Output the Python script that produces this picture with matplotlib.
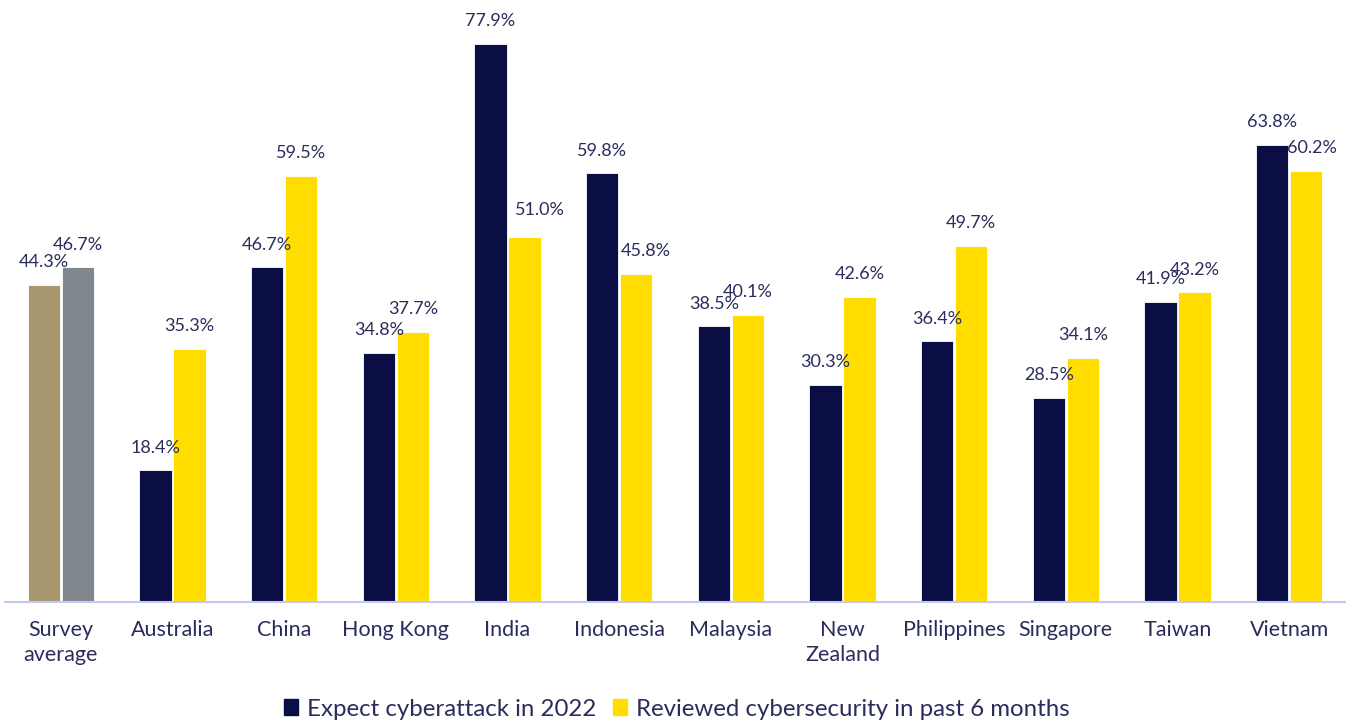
import matplotlib
matplotlib.use("Agg")
import matplotlib.pyplot as plt
from matplotlib.patches import Patch
import numpy as np

plt.rcParams["font.family"] = ["Lato", "DejaVu Sans"]

# Survey data
categories = ["Survey\naverage", "Australia", "China", "Hong Kong", "India", "Indonesia",
              "Malaysia", "New\nZealand", "Philippines", "Singapore", "Taiwan", "Vietnam"]
expect_attack = [44.3, 18.4, 46.7, 34.8, 77.9, 59.8, 38.5, 30.3, 36.4, 28.5, 41.9, 63.8]
reviewed_security = [46.7, 35.3, 59.5, 37.7, 51.0, 45.8, 40.1, 42.6, 49.7, 34.1, 43.2, 60.2]

navy = "#0b0e45"
yellow = "#ffdd00"
text_color = "#2a2d5c"

# first group (survey average) uses its own colours
colors_a = ["#a89870"] + [navy] * (len(categories) - 1)
colors_b = ["#80888e"] + [yellow] * (len(categories) - 1)

# a few yellow labels were nudged sideways (points) to clear the neighbouring bar
nudge_b = {4: (11, 3), 5: (7, 0), 11: (4, 0)}

fig = plt.figure(figsize=(13.53, 7.22), dpi=100)
ax = fig.add_axes([5 / 1353, 120 / 722, 1340 / 1353, 602 / 722])

x = np.arange(len(categories))
w = 0.29
off = 0.152
bars_a = ax.bar(x - off, expect_attack, w, color=colors_a, edgecolor="white", linewidth=0.6)
bars_b = ax.bar(x + off, reviewed_security, w, color=colors_b, edgecolor="white", linewidth=0.6)

for bars, vals, nudge in [(bars_a, expect_attack, {}), (bars_b, reviewed_security, nudge_b)]:
    for i, (b, v) in enumerate(zip(bars, vals)):
        dx, dy = nudge.get(i, (0, 0))
        ax.annotate(f"{v:.1f}%", (b.get_x() + b.get_width() / 2, v),
                    xytext=(dx, 10.5 + dy), textcoords="offset points",
                    ha="center", va="bottom", fontsize=13, color=text_color)

ax.set_xlim(-0.5, len(categories) - 0.5)
ax.set_ylim(0, 84)
ax.set_yticks([])
ax.set_xticks(x)
ax.set_xticklabels(categories, fontsize=15.5, color=text_color, linespacing=1.3)
ax.tick_params(axis="x", length=0, pad=13)
for s in ["top", "right", "left"]:
    ax.spines[s].set_visible(False)
ax.spines["bottom"].set_color("#c5c8ef")
ax.spines["bottom"].set_linewidth(1.5)

handles = [Patch(color=navy, label="Expect cyberattack in 2022"),
           Patch(color=yellow, label="Reviewed cybersecurity in past 6 months")]
fig.legend(handles=handles, loc="center", bbox_to_anchor=(0.5, 13 / 722),
           ncol=2, frameon=False, fontsize=17.3, handlelength=0.6, handleheight=0.6,
           handletextpad=0.35, columnspacing=0.7, labelcolor=text_color)

fig.savefig("out.png", dpi=100)
